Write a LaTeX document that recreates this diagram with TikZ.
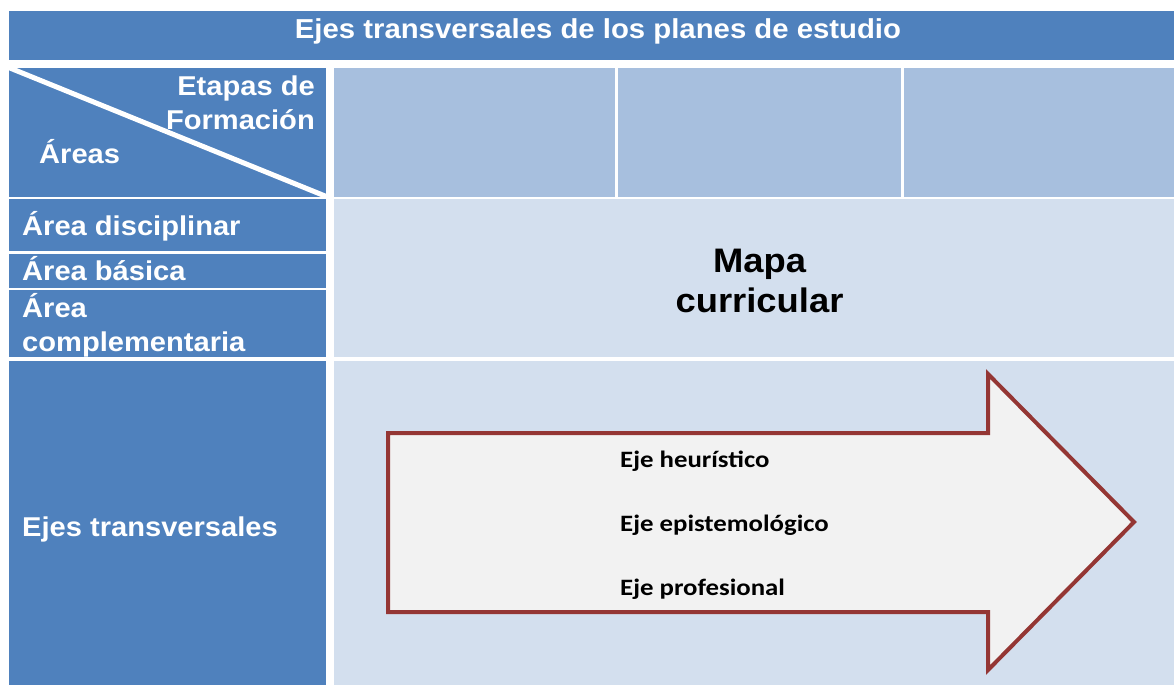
\documentclass[tikz,border=0pt]{standalone}
\usepackage{fontspec}
\setmainfont{Liberation Sans}
\newfontfamily\arialb[FakeStretch=1.07]{Liberation Sans Bold}
\newfontfamily\calib[FakeStretch=1.14]{Carlito Bold}
\definecolor{dblue}{HTML}{4F81BD}
\definecolor{mblue}{HTML}{A7BFDE}
\definecolor{lblue}{HTML}{D3DFEE}
\definecolor{arrowfill}{HTML}{F2F2F2}
\definecolor{arrowline}{HTML}{943634}
\tikzset{
  wlabel/.style={inner sep=0pt, text=white, font=\arialb\fontsize{27.2}{30}\selectfont},
  ejelabel/.style={inner sep=0pt, anchor=base west, text=black, font=\calib\fontsize{23.5}{26}\selectfont},
}
\begin{document}
\begin{tikzpicture}[x=1pt,y=-1pt]
\useasboundingbox (0,0) rectangle (1174,685);
% title bar
\fill[dblue] (9,11) rectangle (1174,60);
\node[wlabel, anchor=base, font=\arialb\fontsize{27.4}{30}\selectfont] (title) at (598,38) {Ejes transversales de los planes de estudio};
% header row
\fill[dblue] (9,68) rectangle (326,197);
\begin{scope}
\clip (9,68) rectangle (326,197);
\draw[white, line width=5pt] (5,66) -- (330,198);
\end{scope}
\node[wlabel, anchor=base east] (etapas) at (315,95) {Etapas de};
\node[wlabel, anchor=base east] (formacion) at (315,129) {Formación};
\node[wlabel, anchor=base west] (areas) at (39,163) {Áreas};
\fill[mblue] (334,68) rectangle (615,197);
\fill[mblue] (618,68) rectangle (901,197);
\fill[mblue] (904,68) rectangle (1174,197);
% area rows
\fill[dblue] (9,199) rectangle (326,251);
\fill[dblue] (9,254) rectangle (326,288);
\fill[dblue] (9,290) rectangle (326,357);
\fill[dblue] (9,361) rectangle (326,685);
\node[wlabel, anchor=base west] (adisc) at (22,235) {Área disciplinar};
\node[wlabel, anchor=base west] (abas) at (22,280) {Área básica};
\node[wlabel, anchor=base west] (acomp1) at (22,317) {Área};
\node[wlabel, anchor=base west] (acomp2) at (22,351) {complementaria};
\node[wlabel, anchor=base west] (ejes) at (22,536) {Ejes transversales};
% mapa curricular cell
\fill[lblue] (334,199) rectangle (1174,357);
\node[inner sep=0pt, anchor=base, font=\arialb\fontsize{34}{40}\selectfont] (mapa) at (759.5,272) {Mapa};
\node[inner sep=0pt, anchor=base, font=\arialb\fontsize{34}{40}\selectfont] (curr) at (759.5,312) {curricular};
% ejes cell
\fill[lblue] (334,361) rectangle (1174,685);
\draw[arrowline, fill=arrowfill, line width=4pt, line join=miter]
  (388,433) -- (988,433) -- (988,374) -- (1134,522) -- (988,670) -- (988,612) -- (388,612) -- cycle;
\node[ejelabel] (e1) at (620,467) {Eje heurístico};
\node[ejelabel] (e2) at (620,531) {Eje epistemológico};
\node[ejelabel] (e3) at (620,595) {Eje profesional};
\end{tikzpicture}
\end{document}
